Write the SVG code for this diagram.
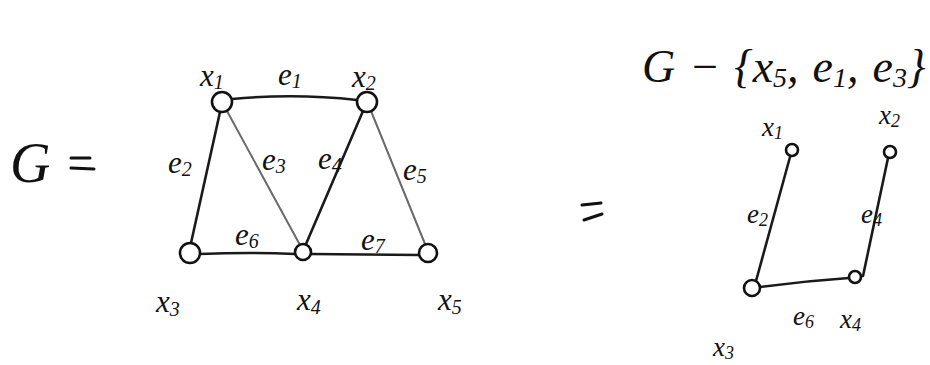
<svg xmlns="http://www.w3.org/2000/svg" width="930" height="365" viewBox="0 0 930 365">
<style>
.bg{fill:#fff}
.edge{fill:none;stroke:#1a1a1a;stroke-width:2.6;stroke-linecap:round}
.light{stroke:#6a6a6a;stroke-width:2}
.node{fill:#fff;stroke:#111;stroke-width:2.6}
.lbl{font-family:"Liberation Serif",serif;font-style:italic;font-size:31px;fill:#111}
.lbls{font-family:"Liberation Serif",serif;font-style:italic;font-size:27px;fill:#111}
.big{font-family:"Liberation Serif",serif;font-style:italic;font-size:56px;fill:#111}
.title{font-family:"Liberation Serif",serif;font-style:italic;font-size:46px;fill:#111;word-spacing:2.5px}
.sub{font-size:20px}
.subs{font-size:18px}
.tsub{font-size:28px}
.eq{fill:none;stroke:#111;stroke-width:3;stroke-linecap:round}
</style>
<rect class="bg" width="930" height="365"/>

<g id="G-label">
<text class="big" x="10" y="182">G</text>
<path class="eq" d="M71 158 L90 158 M71 168 L94 169"/>
</g>
<g id="equals-mid">
<path class="eq" d="M582 205 L601 203 M584 220 L602 214"/>
</g>
<g id="title">
<text class="title" x="642" y="82">G − {x<tspan class="tsub" dy="5">5</tspan><tspan dy="-5">, e</tspan><tspan class="tsub" dy="5">1</tspan><tspan dy="-5">, e</tspan><tspan class="tsub" dy="5">3</tspan><tspan dy="-5">}</tspan></text>
</g>

<g id="connectors">
<path class="edge" d="M232 99 Q295 93 357 100"/>
<path class="edge" d="M220 112 L191 243"/>
<path class="edge light" d="M227 111 L300 245"/>
<path class="edge" d="M363 111 L306 244"/>
<path class="edge light" d="M371 111 L425 244"/>
<path class="edge" d="M200 254 Q250 252 295 254"/>
<path class="edge" d="M311 254 L419 255"/>
<path class="edge" d="M790 157 L756 281"/>
<path class="edge" d="M888 158 L863 276"/>
<path class="edge" d="M760 287 Q805 281 849 278"/>
</g>

<g id="left-x1"><circle class="node" cx="222" cy="102" r="10"/><text class="lbl" x="200" y="86">x<tspan class="sub" dy="3">1</tspan></text></g>
<g id="left-x2"><circle class="node" cx="367" cy="102" r="10"/><text class="lbl" x="352" y="87">x<tspan class="sub" dy="3">2</tspan></text></g>
<g id="left-x3"><circle class="node" cx="190" cy="253" r="10"/><text class="lbl" x="156" y="312">x<tspan class="sub" dy="4">3</tspan></text></g>
<g id="left-x4"><circle class="node" cx="303" cy="252" r="8"/><text class="lbl" x="297" y="310">x<tspan class="sub" dy="4">4</tspan></text></g>
<g id="left-x5"><circle class="node" cx="428" cy="253" r="9"/><text class="lbl" x="438" y="310">x<tspan class="sub" dy="4">5</tspan></text></g>

<g id="left-edge-labels">
<text class="lbl" x="278" y="85">e<tspan class="sub" dy="3">1</tspan></text>
<text class="lbl" x="168" y="173">e<tspan class="sub" dy="3">2</tspan></text>
<text class="lbl" x="262" y="170">e<tspan class="sub" dy="3">3</tspan></text>
<text class="lbl" x="318" y="169">e<tspan class="sub" dy="3">4</tspan></text>
<text class="lbl" x="403" y="180">e<tspan class="sub" dy="3">5</tspan></text>
<text class="lbl" x="235" y="245">e<tspan class="sub" dy="3">6</tspan></text>
<text class="lbl" x="361" y="250">e<tspan class="sub" dy="3">7</tspan></text>
</g>

<g id="right-x1"><circle class="node" cx="792" cy="150" r="6"/><text class="lbls" x="762" y="136">x<tspan class="subs" dy="3">1</tspan></text></g>
<g id="right-x2"><circle class="node" cx="890" cy="152" r="6"/><text class="lbls" x="879" y="124">x<tspan class="subs" dy="3">2</tspan></text></g>
<g id="right-x3"><circle class="node" cx="752" cy="288" r="8"/><text class="lbls" x="713" y="356">x<tspan class="subs" dy="3">3</tspan></text></g>
<g id="right-x4"><circle class="node" cx="855" cy="277" r="6"/><text class="lbls" x="840" y="328">x<tspan class="subs" dy="3">4</tspan></text></g>

<g id="right-edge-labels">
<text class="lbls" x="747" y="223">e<tspan class="subs" dy="3">2</tspan></text>
<text class="lbls" x="861" y="223">e<tspan class="subs" dy="3">4</tspan></text>
<text class="lbls" x="793" y="325">e<tspan class="subs" dy="3">6</tspan></text>
</g>
</svg>
